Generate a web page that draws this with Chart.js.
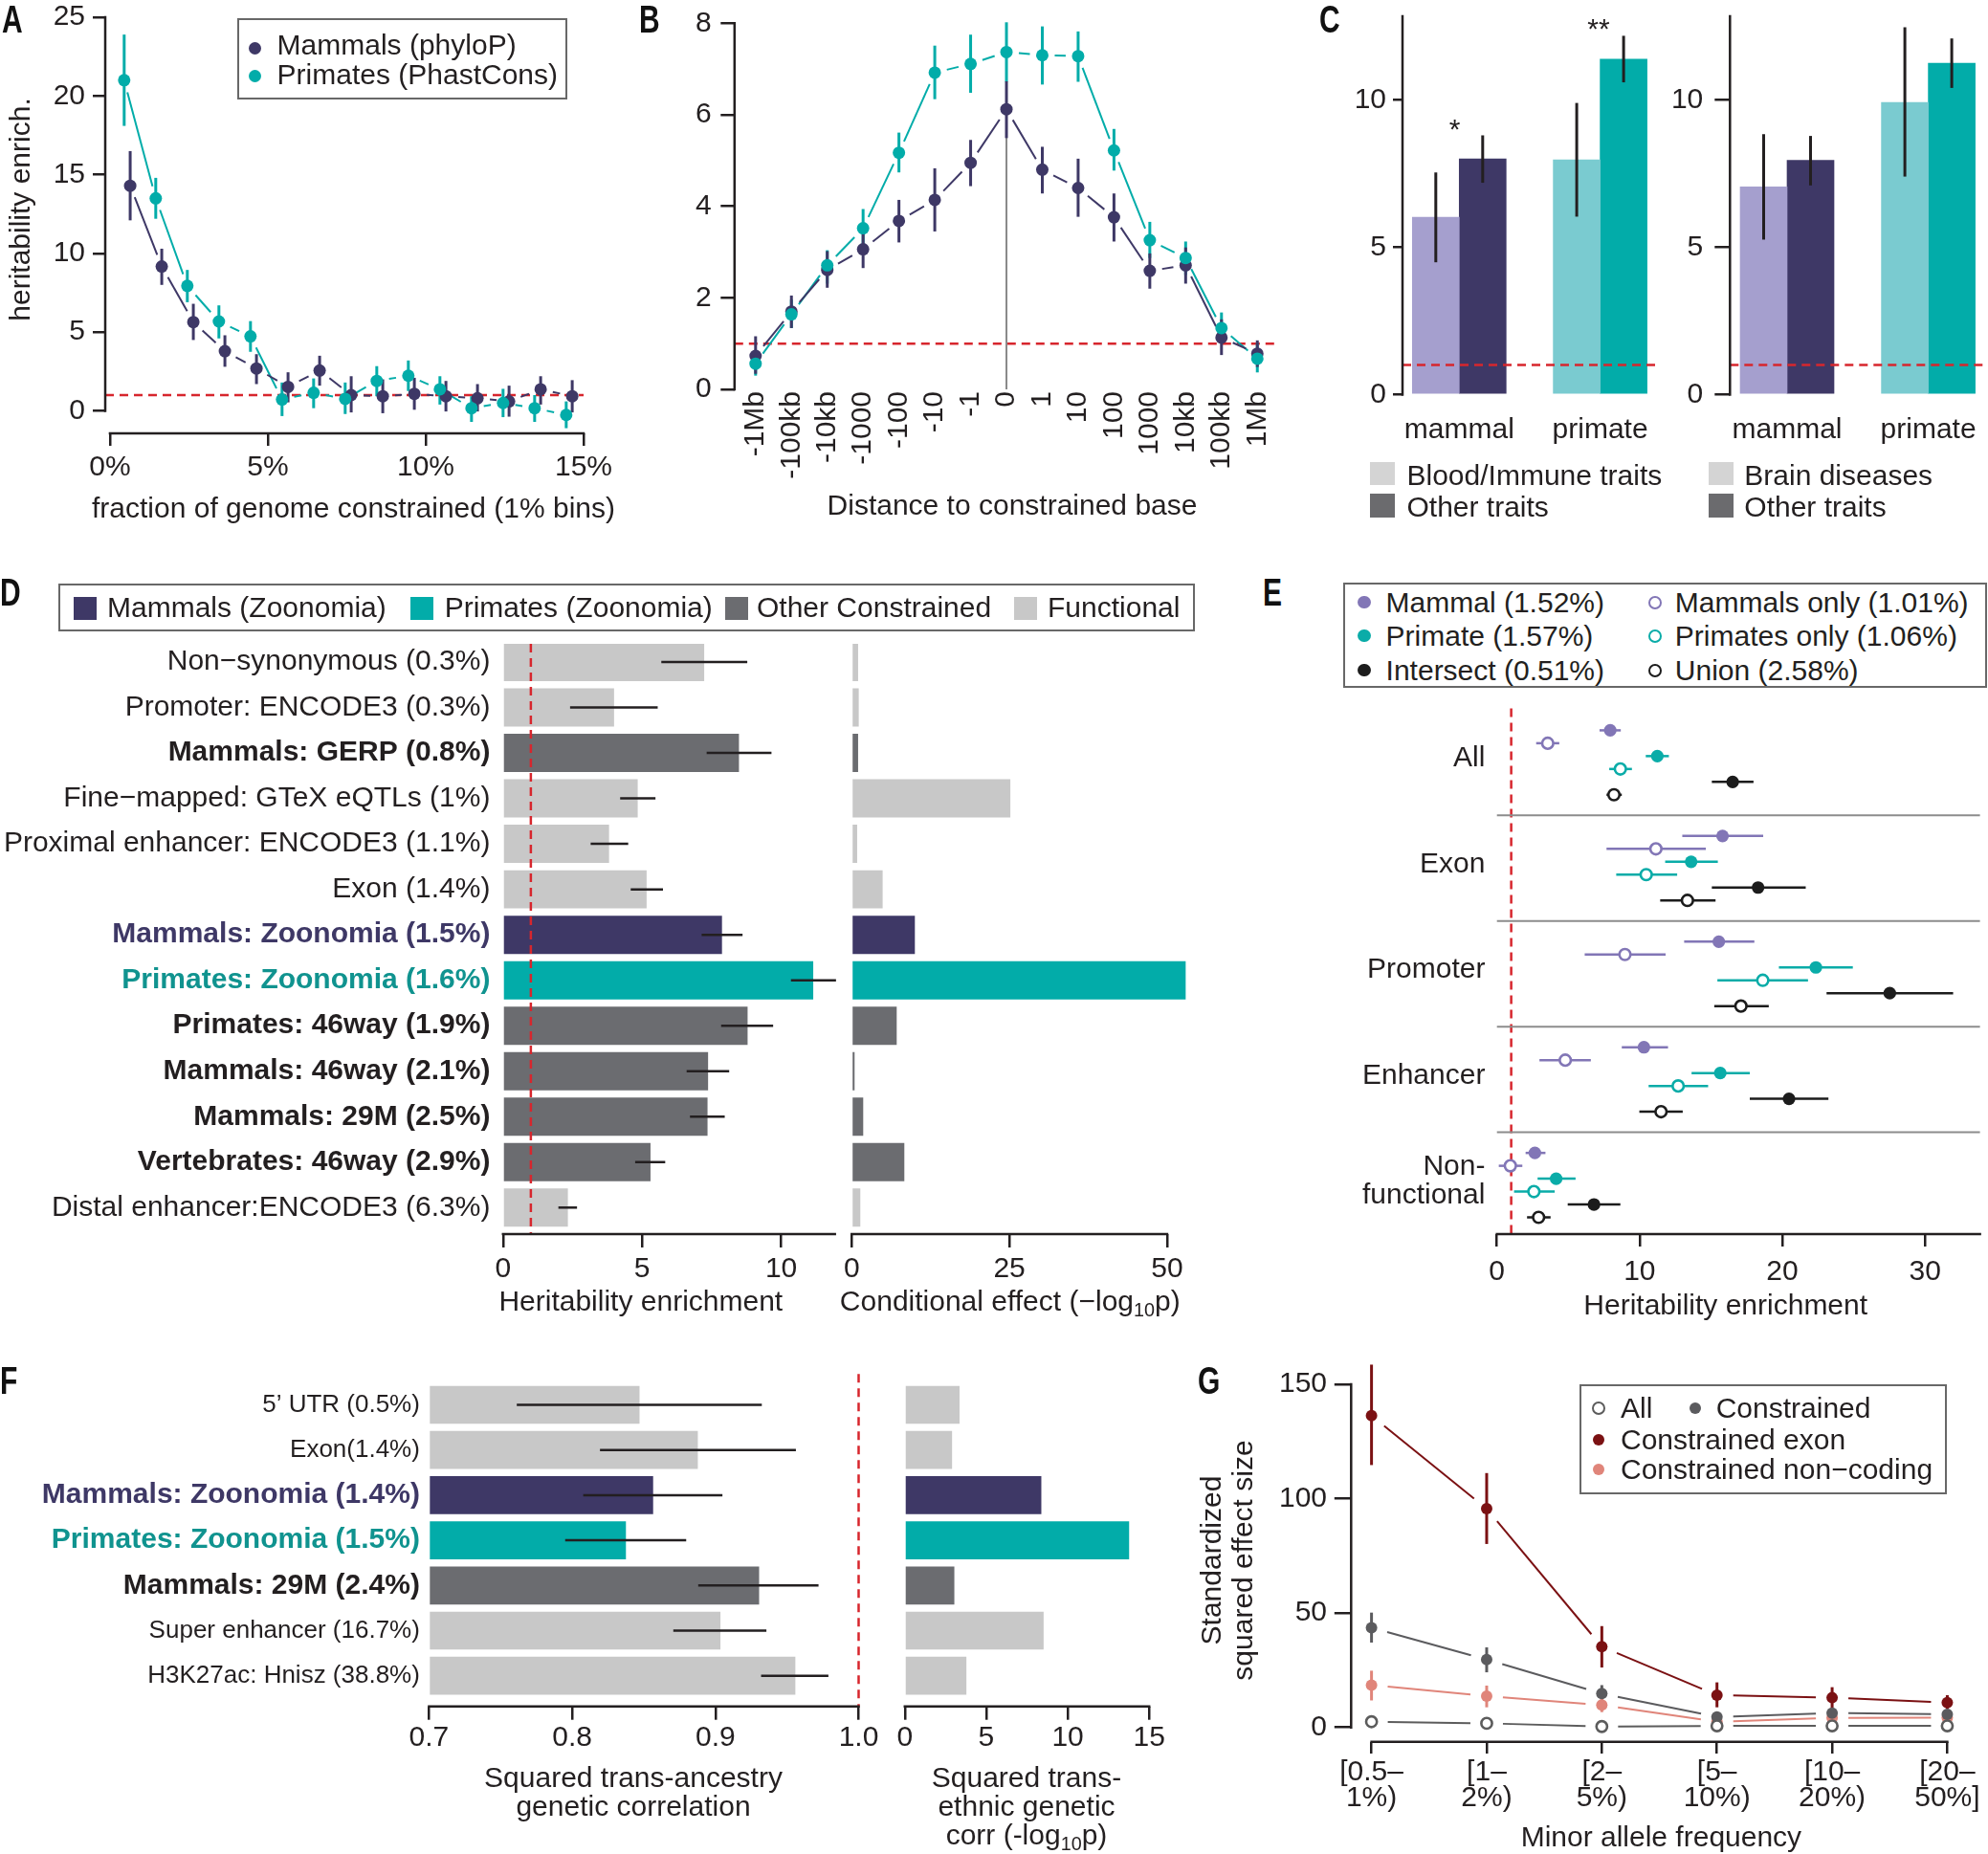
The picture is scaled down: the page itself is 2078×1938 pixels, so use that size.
<!DOCTYPE html>
<html lang="en">
<head>
<meta charset="utf-8">
<title>Constraint and heritability enrichment</title>
<script src="https://cdn.jsdelivr.net/npm/chart.js@4.4.1/dist/chart.umd.min.js"></script>
<style>
  html, body { margin: 0; padding: 0; background: #ffffff; }
  body { position: relative; width: 2078px; height: 1938px; overflow: hidden;
         font-family: "Liberation Sans", Arial, Helvetica, sans-serif; color: #231f20; }
  canvas { position: absolute; }
  .t { position: absolute; white-space: nowrap; }
  .t sub { font-size: 0.66em; line-height: 0; vertical-align: -0.3em; }
  .bx { position: absolute; box-sizing: border-box; border: 2.5px solid #686868; }
  .mk { position: absolute; box-sizing: border-box; }
  .lt { position: absolute; white-space: nowrap; font-size: 40px; line-height: 40px; font-weight: bold;
        transform: scaleX(0.75); transform-origin: 0 50%; color: #111; }
</style>
</head>
<body>
<script>
// ======================= DATA =======================
// ---- Panel A ----
const aXTicks = [0, 5, 10, 15];
const aXTickLabels = ['0%', '5%', '10%', '15%'];
const aYTicks = [0, 5, 10, 15, 20, 25];
const aMammalX = [0.64, 1.64, 2.64, 3.64, 4.64, 5.64, 6.64, 7.64, 8.64, 9.64, 10.64, 11.64, 12.64, 13.64, 14.64];
const aMammal = [14.3, 9.17, 5.64, 3.79, 2.69, 1.52, 2.56, 1.0, 0.93, 1.08, 0.93, 0.8, 0.6, 1.37, 0.93];
const aMammalLo = [12.1, 8.0, 4.5, 2.8, 1.7, 0.54, 1.6, -0.1, -0.15, 0.07, -0.04, -0.04, -0.37, 0.4, -0.1];
const aMammalHi = [16.5, 10.3, 6.8, 4.8, 3.6, 2.45, 3.5, 2.2, 2.0, 2.1, 1.9, 1.7, 1.6, 2.2, 1.95];
const aPrimateX = [0.45, 1.45, 2.45, 3.45, 4.45, 5.45, 6.45, 7.45, 8.45, 9.45, 10.45, 11.45, 12.45, 13.45, 14.45];
const aPrimate = [21.0, 13.5, 7.94, 5.68, 4.73, 0.72, 1.15, 0.76, 1.9, 2.23, 1.37, 0.17, 0.5, 0.17, -0.26];
const aPrimateLo = [18.1, 12.2, 6.9, 4.6, 3.75, -0.33, 0.17, -0.2, 0.93, 1.26, 0.4, -0.7, -0.4, -0.7, -1.1];
const aPrimateHi = [23.9, 14.8, 8.95, 6.7, 5.7, 1.8, 2.06, 1.8, 2.84, 3.2, 2.2, 0.93, 1.4, 1.0, 0.6];

// ---- Panel B ----
const bLabels = ['-1Mb', '-100kb', '-10kb', '-1000', '-100', '-10', '-1', '0', '1', '10', '100', '1000', '10kb', '100kb', '1Mb'];
const bYTicks = [0, 2, 4, 6, 8];
const bMammal = [0.73, 1.70, 2.61, 3.06, 3.68, 4.14, 4.95, 6.12, 4.80, 4.40, 3.76, 2.59, 2.71, 1.13, 0.78];
const bMammalLo = [0.34, 1.34, 2.22, 2.65, 3.21, 3.45, 4.44, 5.49, 4.28, 3.77, 3.23, 2.20, 2.31, 0.75, 0.49];
const bMammalHi = [1.16, 2.05, 3.02, 3.45, 4.14, 4.83, 5.45, 6.73, 5.30, 5.04, 4.28, 2.97, 3.10, 1.53, 1.07];
const bPrimate = [0.56, 1.64, 2.71, 3.52, 5.17, 6.92, 7.11, 7.37, 7.30, 7.28, 5.22, 3.26, 2.87, 1.34, 0.67];
const bPrimateLo = [0.30, 1.34, 2.31, 3.10, 4.74, 6.34, 6.48, 6.72, 6.66, 6.72, 4.78, 2.87, 2.50, 1.01, 0.37];
const bPrimateHi = [0.86, 1.96, 3.04, 3.94, 5.61, 7.51, 7.75, 8.02, 7.93, 7.82, 5.69, 3.66, 3.23, 1.68, 1.01];

// ---- Panel C ----
const cCats = ['mammal', 'primate'];
const cYTicks = [0, 5, 10];
const cBloodImmune = [6.02, 7.97];
const cBloodImmuneLo = [4.49, 6.04];
const cBloodImmuneHi = [7.54, 9.90];
const cOtherA = [8.00, 11.39];
const cOtherALo = [7.19, 10.60];
const cOtherAHi = [8.80, 12.18];
const cBrain = [7.05, 9.92];
const cBrainLo = [5.26, 7.40];
const cBrainHi = [8.84, 12.47];
const cOtherB = [7.95, 11.25];
const cOtherBLo = [7.10, 10.41];
const cOtherBHi = [8.78, 12.09];

// ---- Panel D ----
const dLabels = ['Non\u2212synonymous (0.3%)', 'Promoter: ENCODE3 (0.3%)', 'Mammals: GERP (0.8%)',
  'Fine\u2212mapped: GTeX eQTLs (1%)', 'Proximal enhancer: ENCODE3 (1.1%)', 'Exon (1.4%)',
  'Mammals: Zoonomia (1.5%)', 'Primates: Zoonomia (1.6%)', 'Primates: 46way (1.9%)',
  'Mammals: 46way (2.1%)', 'Mammals: 29M (2.5%)', 'Vertebrates: 46way (2.9%)', 'Distal enhancer:ENCODE3 (6.3%)'];
const dTypes = ['f', 'f', 'o', 'f', 'f', 'f', 'm', 'p', 'o', 'o', 'o', 'o', 'f'];
const dEnrich = [7.22, 3.98, 8.47, 4.83, 3.80, 5.15, 7.86, 11.14, 8.78, 7.36, 7.34, 5.29, 2.32];
const dEnrichLo = [5.69, 2.41, 7.32, 4.21, 3.15, 4.59, 7.14, 10.35, 7.84, 6.60, 6.72, 4.75, 1.99];
const dEnrichHi = [8.78, 5.56, 9.65, 5.48, 4.50, 5.75, 8.61, 11.97, 9.71, 8.13, 7.97, 5.83, 2.66];
const dCond = [0.96, 1.06, 0.96, 25.1, 0.81, 4.85, 9.96, 52.9, 7.08, 0.40, 1.77, 8.29, 1.31];
const dXTicksL = [0, 5, 10];
const dXTicksR = [0, 25, 50];
const dLegend = ['Mammals (Zoonomia)', 'Primates (Zoonomia)', 'Other Constrained', 'Functional'];

// ---- Panel E ----
const eGroups = ['All', 'Exon', 'Promoter', 'Enhancer', ['Non-', 'functional']];
const eNames = ['Mammal (1.52%)', 'Mammals only (1.01%)', 'Primate (1.57%)', 'Primates only (1.06%)', 'Intersect (0.51%)', 'Union (2.58%)'];
const eMammal = [7.94, 15.81, 15.55, 10.30, 2.66];
const eMammalLo = [7.19, 12.99, 13.12, 8.75, 2.01];
const eMammalHi = [8.68, 18.66, 18.04, 11.99, 3.40];
const eMammalOnly = [3.56, 11.14, 8.97, 4.79, 0.94];
const eMammalOnlyLo = [2.75, 7.68, 6.15, 2.98, 0.13];
const eMammalOnlyHi = [4.37, 14.64, 11.82, 6.58, 1.78];
const ePrimate = [11.24, 13.61, 22.35, 15.65, 4.15];
const ePrimateLo = [10.43, 11.79, 19.76, 13.64, 2.85];
const ePrimateHi = [12.05, 15.48, 24.94, 17.72, 5.51];
const ePrimateOnly = [8.65, 10.46, 18.63, 12.70, 2.59];
const ePrimateOnlyLo = [7.87, 8.36, 15.45, 10.63, 1.20];
const ePrimateOnlyHi = [9.46, 12.63, 21.80, 14.80, 4.05];
const eIntersect = [16.52, 18.30, 27.53, 20.47, 6.80];
const eIntersectLo = [15.06, 15.06, 23.10, 17.72, 4.96];
const eIntersectHi = [17.98, 21.64, 31.97, 23.23, 8.65];
const eUnion = [8.20, 13.35, 17.10, 11.50, 2.92];
const eUnionLo = [7.68, 11.44, 15.23, 9.98, 2.11];
const eUnionHi = [8.75, 15.32, 19.05, 13.02, 3.76];
const eXTicks = [0, 10, 20, 30];

// ---- Panel F ----
const fLabels = ['5\u2019 UTR (0.5%)', 'Exon(1.4%)', 'Mammals: Zoonomia (1.4%)', 'Primates: Zoonomia (1.5%)',
  'Mammals: 29M (2.4%)', 'Super enhancer (16.7%)', 'H3K27ac: Hnisz (38.8%)'];
const fTypes = ['f', 'f', 'm', 'p', 'o', 'f', 'f'];
const fCorr = [0.8468, 0.8875, 0.8563, 0.8373, 0.9303, 0.9033, 0.9556];
const fCorrLo = [0.7613, 0.8194, 0.8077, 0.7951, 0.8880, 0.8706, 0.9319];
const fCorrHi = [0.9324, 0.9562, 0.9049, 0.8796, 0.9720, 0.9356, 0.9789];
const fLogP = [3.34, 2.88, 8.36, 13.75, 3.02, 8.50, 3.76];
const fXTicksL = [0.7, 0.8, 0.9, 1.0];
const fXTickLabelsL = ['0.7', '0.8', '0.9', '1.0'];
const fXTicksR = [0, 5, 10, 15];

// ---- Panel G ----
const gLabels = [['[0.5\u2013', '1%)'], ['[1\u2013', '2%)'], ['[2\u2013', '5%)'], ['[5\u2013', '10%)'], ['[10\u2013', '20%)'], ['[20\u2013', '50%]']];
const gYTicks = [0, 50, 100, 150];
const gAll = [2.5, 1.8, 0.4, 0.7, 0.7, 0.7];
const gConstrained = [43.6, 29.7, 14.8, 4.6, 6.3, 5.7];
const gConstrainedLo = [37.1, 24.1, 11.3, 3.0, 4.5, 4.2];
const gConstrainedHi = [50.2, 35.0, 18.5, 6.2, 8.1, 7.2];
const gExon = [136.3, 95.6, 35.3, 14.1, 13.0, 10.9];
const gExonLo = [114.7, 80.2, 26.2, 8.8, 8.5, 8.1];
const gExonHi = [158.6, 111.2, 44.3, 19.7, 17.6, 14.1];
const gNonCoding = [18.5, 13.7, 9.8, 2.5, 4.2, 4.3];
const gNonCodingLo = [11.8, 8.8, 6.7, 1.0, 2.7, 2.9];
const gNonCodingHi = [24.8, 18.3, 13.0, 4.0, 5.7, 5.7];

// ======================= STYLE =======================
const INK = '#231f20';
const PURPLE = '#3e3866', TEAL = '#02aca9', LPURPLE = '#a59fce', LTEAL = '#7acbd0';
const OTHER = '#6b6c70', FUNC = '#c8c8c8', RED = '#d7262d', SEP = '#8c8c8c';
const E_COLORS = ['#8276b6', '#8276b6', '#0aaca8', '#0aaca8', '#1c1c1c', '#1c1c1c'];
const E_OPEN = [false, true, false, true, false, true];
const G_ALL = '#5c5c5c', G_CON = '#5b5b5e', G_EXON = '#7b1113', G_NC = '#e0857a';
const TYPE_FILL = {f: FUNC, o: OTHER, m: PURPLE, p: TEAL};
const TYPE_TEXT = {f: INK, o: INK, m: PURPLE, p: '#10938f'};
const DASH = [9, 6];
const E_GROUP = 8.2, E_SEP = 6.6, E_LABEL = 2.2;

Chart.defaults.font.family = '"Liberation Sans", Arial, Helvetica, sans-serif';
Chart.defaults.color = INK;

// ======================= HELPERS =======================
function paint(chart, spec, layer) {
  const ctx = chart.ctx, ca = chart.chartArea;
  ctx.save();
  (spec.refLines || []).forEach(r => {
    if ((r.layer || 'under') !== layer) return;
    const s = chart.scales[r.axis];
    const p = s.getPixelForValue(r.value);
    ctx.beginPath();
    ctx.setLineDash(r.dash || []);
    ctx.strokeStyle = r.color;
    ctx.lineWidth = r.width || 2;
    if (r.axis === 'x') {
      const o = chart.scales.y;
      const a = r.from !== undefined ? o.getPixelForValue(r.from) : ca.top;
      const b = r.to !== undefined ? o.getPixelForValue(r.to) : ca.bottom;
      ctx.moveTo(p, a); ctx.lineTo(p, b);
    } else {
      const o = chart.scales.x;
      const a = r.from !== undefined ? o.getPixelForValue(r.from) : ca.left;
      const b = r.to !== undefined ? o.getPixelForValue(r.to) : ca.right;
      ctx.moveTo(a, p); ctx.lineTo(b, p);
    }
    ctx.stroke();
  });
  ctx.setLineDash([]);
  if (layer === 'under') {
    chart.data.datasets.forEach((ds, i) => {
      const g = ds.gapLine;
      if (!g) return;
      const pts = chart.getDatasetMeta(i).data;
      ctx.strokeStyle = g.color; ctx.lineWidth = g.width; ctx.lineCap = 'butt';
      for (let k = 0; k < pts.length - 1; k++) {
        const p = pts[k], q = pts[k + 1];
        const dx = q.x - p.x, dy = q.y - p.y, d = Math.hypot(dx, dy);
        if (d <= 2 * g.gap) continue;
        const ux = dx / d, uy = dy / d;
        ctx.beginPath();
        ctx.moveTo(p.x + ux * g.gap, p.y + uy * g.gap);
        ctx.lineTo(q.x - ux * g.gap, q.y - uy * g.gap);
        ctx.stroke();
      }
    });
  }
  if (layer === (spec.errLayer || 'under')) {
    chart.data.datasets.forEach((ds, i) => {
      const e = ds.err;
      if (!e) return;
      const s = chart.scales[e.axis];
      ctx.strokeStyle = e.color; ctx.lineWidth = e.width; ctx.lineCap = 'butt';
      chart.getDatasetMeta(i).data.forEach((el, k) => {
        if (e.lo[k] === undefined) return;
        const a = s.getPixelForValue(e.lo[k]), b = s.getPixelForValue(e.hi[k]);
        ctx.beginPath();
        if (e.axis === 'y') { ctx.moveTo(el.x, a); ctx.lineTo(el.x, b); }
        else { ctx.moveTo(a, el.y); ctx.lineTo(b, el.y); }
        ctx.stroke();
      });
    });
  }
  if (layer === 'over') {
    (spec.axisLines || []).forEach(a => {
      const s = chart.scales[a.axis];
      let p1, p2;
      if (a.full) {
        p1 = a.axis === 'x' ? ca.left : ca.top;
        p2 = a.axis === 'x' ? ca.right : ca.bottom;
      } else {
        const t = s.ticks;
        p1 = s.getPixelForValue(t[0].value);
        p2 = s.getPixelForValue(t[t.length - 1].value);
      }
      ctx.strokeStyle = INK; ctx.lineWidth = 2.5; ctx.lineCap = 'square';
      ctx.beginPath();
      if (a.axis === 'x') { ctx.moveTo(p1, ca.bottom); ctx.lineTo(p2, ca.bottom); }
      else { ctx.moveTo(ca.left, p1); ctx.lineTo(ca.left, p2); }
      ctx.stroke();
    });
  }
  ctx.restore();
}

function makeExtras(spec) {
  return {
    id: 'extras',
    beforeDatasetsDraw(chart) { paint(chart, spec, 'under'); },
    afterDatasetsDraw(chart) { paint(chart, spec, 'over'); }
  };
}

function lin(o) {
  return {
    type: 'linear', min: o.min, max: o.max, reverse: !!o.reverse, bounds: 'data', offset: false,
    border: {display: false},
    grid: {display: !!o.tick, offset: false, drawOnChartArea: false, drawTicks: !!o.tick, tickLength: o.tick || 0, color: INK, lineWidth: 2.5},
    ticks: {
      display: !o.hide, autoSkip: false, padding: o.pad || 0,
      minRotation: o.rot || 0, maxRotation: o.rot || 0,
      font: o.font || {size: 30, lineHeight: 1.2},
      color: o.color || INK,
      callback: (v, i) => (o.labels ? o.labels[i] : String(v))
    },
    afterBuildTicks: s => { s.ticks = (o.at || []).map(v => ({value: v})); }
  };
}

function build(cv, area, type, datasets, scales, spec, extra) {
  const c = document.createElement('canvas');
  c.width = cv.w; c.height = cv.h;
  c.style.left = cv.x + 'px'; c.style.top = cv.y + 'px';
  c.style.width = cv.w + 'px'; c.style.height = cv.h + 'px';
  document.body.appendChild(c);
  const yW = area.L - cv.x, xH = cv.y + cv.h - area.B;
  scales.x.position = 'bottom'; scales.y.position = 'left';
  scales.x.afterFit = s => { s.height = xH; s.paddingLeft = 0; s.paddingRight = 0; s.paddingTop = 0; s.paddingBottom = 0; };
  scales.y.afterFit = s => { s.width = yW; s.paddingLeft = 0; s.paddingRight = 0; s.paddingTop = 0; s.paddingBottom = 0; };
  const options = Object.assign({
    responsive: false, maintainAspectRatio: false, devicePixelRatio: 1, animation: false,
    layout: {padding: {left: 0, bottom: 0, top: area.T - cv.y, right: cv.x + cv.w - area.R}},
    plugins: {legend: {display: false}, tooltip: {enabled: false}},
    events: [],
    scales
  }, extra || {});
  return new Chart(c, {type, data: {datasets}, options, plugins: [makeExtras(spec || {})]});
}

function ptSet(xs, ys, lo, hi, color, gap, r, open) {
  const ds = {
    data: xs.map((x, i) => ({x, y: ys[i]})),
    pointRadius: r, pointHoverRadius: r,
    pointBackgroundColor: open ? '#ffffff' : color, pointBorderColor: color,
    pointBorderWidth: open ? 2.6 : 0, showLine: false, clip: false,
    gapLine: gap ? {color, width: 2, gap} : null
  };
  if (lo) ds.err = {axis: 'y', lo, hi, color, width: 3};
  return ds;
}

function txt(html, x, y, align, o) {
  o = o || {};
  const size = o.size || 30;
  const d = document.createElement('div');
  d.className = 't';
  d.innerHTML = html;
  d.style.fontSize = size + 'px';
  d.style.lineHeight = size + 'px';
  if (o.weight) d.style.fontWeight = o.weight;
  if (o.color) d.style.color = o.color;
  if (align === 'right') { d.style.left = (x - 1000) + 'px'; d.style.width = '1000px'; d.style.textAlign = 'right'; }
  else if (align === 'center') { d.style.left = (x - 500) + 'px'; d.style.width = '1000px'; d.style.textAlign = 'center'; }
  else d.style.left = x + 'px';
  d.style.top = (y - size / 2) + 'px';
  if (o.rot) d.style.transform = 'rotate(' + o.rot + 'deg)';
  document.body.appendChild(d);
}
function dot(cx, cy, r, fill, stroke, sw) {
  const d = document.createElement('div');
  d.className = 'mk';
  d.style.cssText += `left:${cx - r}px;top:${cy - r}px;width:${2 * r}px;height:${2 * r}px;border-radius:50%;background:${fill};` +
    (sw ? `border:${sw}px solid ${stroke};` : '');
  document.body.appendChild(d);
}
function rect(x, y, w, h, color) {
  const d = document.createElement('div');
  d.className = 'mk';
  d.style.cssText += `left:${x}px;top:${y}px;width:${w}px;height:${h}px;background:${color};`;
  document.body.appendChild(d);
}
function frame(x1, y1, x2, y2) {
  const d = document.createElement('div');
  d.className = 'bx';
  d.style.cssText += `left:${x1}px;top:${y1}px;width:${x2 - x1}px;height:${y2 - y1}px;`;
  document.body.appendChild(d);
}
function letter(ch, x, baseline) {
  const d = document.createElement('div');
  d.className = 'lt';
  d.textContent = ch;
  d.style.left = x + 'px';
  d.style.top = (baseline - 33.9) + 'px';
  document.body.appendChild(d);
}
const idx = arr => arr.map((_, i) => i);

// ======================= PANEL A =======================
build({x: 0, y: 0, w: 650, h: 560}, {L: 110, T: 13.1, R: 610, B: 453}, 'scatter',
  [ptSet(aPrimateX, aPrimate, aPrimateLo, aPrimateHi, TEAL, 13, 6.5),
   ptSet(aMammalX, aMammal, aMammalLo, aMammalHi, PURPLE, 13, 6.5)],
  {x: lin({min: -0.15, max: 15, at: aXTicks, labels: aXTickLabels, tick: 13, pad: 5}),
   y: lin({min: -1.43, max: 25.3, at: aYTicks, tick: 13, pad: 8})},
  {refLines: [{axis: 'y', value: 1, color: RED, dash: DASH, width: 2.5}],
   axisLines: [{axis: 'x'}, {axis: 'y'}]});

// ======================= PANEL B =======================
const bZero = bLabels.indexOf('0');
build({x: 650, y: 0, w: 700, h: 560}, {L: 767.8, T: 10, R: 1335, B: 407}, 'scatter',
  [ptSet(idx(bPrimate), bPrimate, bPrimateLo, bPrimateHi, TEAL, 13, 6.5),
   ptSet(idx(bMammal), bMammal, bMammalLo, bMammalHi, PURPLE, 13, 6.5)],
  {x: lin({min: -0.587, max: 14.554, at: idx(bLabels), labels: bLabels, rot: 90, pad: 2}),
   y: lin({min: 0, max: 8.298, at: bYTicks, tick: 14.5, pad: 9.7})},
  {refLines: [{axis: 'y', value: 1, color: RED, dash: DASH, width: 2.5},
              {axis: 'x', value: bZero, from: 0, to: bMammal[bZero], color: '#8a8a8a', width: 2}],
   axisLines: [{axis: 'y'}]});

// ======================= PANEL C =======================
function cChart(cv, area, xmin, xmax, light, lightLo, lightHi, dark, darkLo, darkHi, tick, pad) {
  build(cv, area, 'bar',
    [{data: cCats.map((_, i) => ({x: i, y: light[i]})), backgroundColor: [LPURPLE, LTEAL], barThickness: 49, borderWidth: 0,
      err: {axis: 'y', lo: lightLo, hi: lightHi, color: INK, width: 3}},
     {data: cCats.map((_, i) => ({x: i, y: dark[i]})), backgroundColor: [PURPLE, TEAL], barThickness: 49, borderWidth: 0,
      err: {axis: 'y', lo: darkLo, hi: darkHi, color: INK, width: 3}}],
    {x: lin({min: xmin, max: xmax, at: idx(cCats), labels: cCats, pad: 19.6}),
     y: lin({min: 0, max: 12.84, at: cYTicks, tick: tick, pad: pad})},
    {refLines: [{axis: 'y', value: 1, color: RED, dash: DASH, width: 2.5, layer: 'over'}],
     errLayer: 'over', axisLines: [{axis: 'y', full: true}]});
}
cChart({x: 1380, y: 0, w: 360, h: 470}, {L: 1466, T: 17.1, R: 1731, B: 412.4}, -0.4026, 1.3965,
  cBloodImmune, cBloodImmuneLo, cBloodImmuneHi, cOtherA, cOtherALo, cOtherAHi, 10, 7);
cChart({x: 1740, y: 0, w: 338, h: 470}, {L: 1808.3, T: 17.1, R: 2078, B: 412.4}, -0.4045, 1.4228,
  cBrain, cBrainLo, cBrainHi, cOtherB, cOtherBLo, cOtherBHi, 16, 12);

// ======================= PANEL D =======================
const dFont = ctx => ({size: 30, lineHeight: 1.2, weight: (dTypes[ctx.index] || 'f') === 'f' ? 'normal' : 'bold'});
const dColor = ctx => TYPE_TEXT[dTypes[ctx.index] || 'f'];
build({x: 0, y: 600, w: 880, h: 790}, {L: 525.8, T: 673, R: 872.7, B: 1290}, 'bar',
  [{data: dEnrich.map((v, i) => ({x: v, y: i})), backgroundColor: dTypes.map(t => TYPE_FILL[t]),
    barThickness: 39.3, borderWidth: 0, err: {axis: 'x', lo: dEnrichLo, hi: dEnrichHi, color: INK, width: 2.5}}],
  {x: lin({min: 0, max: 11.93, at: dXTicksL, tick: 14, pad: 5}),
   y: lin({min: -0.4, max: 12.583, reverse: true, at: idx(dLabels), labels: dLabels, pad: 13.4, font: dFont, color: dColor})},
  {refLines: [{axis: 'x', value: 1, color: RED, dash: DASH, width: 2.5, layer: 'over'}],
   errLayer: 'over', axisLines: [{axis: 'x', full: true}]},
  {indexAxis: 'y'});
build({x: 880, y: 600, w: 380, h: 790}, {L: 890.3, T: 673, R: 1241, B: 1290}, 'bar',
  [{data: dCond.map((v, i) => ({x: v, y: i})), backgroundColor: dTypes.map(t => TYPE_FILL[t]),
    barThickness: 39.3, borderWidth: 0}],
  {x: lin({min: 0, max: 53.2, at: dXTicksR, tick: 14, pad: 5}),
   y: lin({min: -0.4, max: 12.583, reverse: true, at: [], hide: true})},
  {axisLines: [{axis: 'x'}]},
  {indexAxis: 'y'});

// ======================= PANEL E =======================
const eVals = [eMammal, eMammalOnly, ePrimate, ePrimateOnly, eIntersect, eUnion];
const eLo = [eMammalLo, eMammalOnlyLo, ePrimateLo, ePrimateOnlyLo, eIntersectLo, eUnionLo];
const eHi = [eMammalHi, eMammalOnlyHi, ePrimateHi, ePrimateOnlyHi, eIntersectHi, eUnionHi];
build({x: 1330, y: 730, w: 748, h: 660}, {L: 1564.7, T: 740.4, R: 2076.5, B: 1290}, 'scatter',
  eVals.map((vals, k) => ({
    data: vals.map((v, g) => ({x: v, y: g * E_GROUP + k})),
    pointRadius: E_OPEN[k] ? 5.8 : 6.6, pointHoverRadius: E_OPEN[k] ? 5.8 : 6.6,
    pointBackgroundColor: E_OPEN[k] ? '#ffffff' : E_COLORS[k], pointBorderColor: E_COLORS[k],
    pointBorderWidth: E_OPEN[k] ? 2.6 : 0, showLine: false, clip: false,
    err: {axis: 'x', lo: eLo[k], hi: eHi[k], color: E_COLORS[k], width: 2.5}
  })),
  {x: lin({min: 0, max: 33.85, at: eXTicks, tick: 13, pad: 8.7}),
   y: lin({min: -1.71, max: 39.1, reverse: true, at: eGroups.map((_, g) => g * E_GROUP + E_LABEL), labels: eGroups, pad: 12.3,
           font: {size: 30, lineHeight: 1.0}})},
  {refLines: [{axis: 'x', value: 1, color: RED, dash: DASH, width: 2.5}]
     .concat(eGroups.slice(0, -1).map((_, g) => ({axis: 'y', value: g * E_GROUP + E_SEP, color: SEP, width: 2}))),
   axisLines: [{axis: 'x', full: true}]});

// ======================= PANEL F =======================
const fFont = ctx => {
  const t = fTypes[ctx.index] || 'f';
  return {size: t === 'f' ? 26 : 30, lineHeight: 1.2, weight: t === 'f' ? 'normal' : 'bold'};
};
const fColor = ctx => TYPE_TEXT[fTypes[ctx.index] || 'f'];
build({x: 0, y: 1425, w: 930, h: 513}, {L: 448.4, T: 1436.3, R: 897.5, B: 1783.7}, 'bar',
  [{data: fCorr.map((v, i) => ({x: v, y: i})), base: 0.7, backgroundColor: fTypes.map(t => TYPE_FILL[t]),
    barThickness: 39, borderWidth: 0, err: {axis: 'x', lo: fCorrLo, hi: fCorrHi, color: INK, width: 2.5}}],
  {x: lin({min: 0.7, max: 1.0, at: fXTicksL, labels: fXTickLabelsL, tick: 14, pad: 1}),
   y: lin({min: -0.682, max: 6.678, reverse: true, at: idx(fLabels), labels: fLabels, pad: 9.5, font: fFont, color: fColor})},
  {refLines: [{axis: 'x', value: 1.0, color: RED, dash: DASH, width: 2.5}],
   errLayer: 'over', axisLines: [{axis: 'x', full: true}]},
  {indexAxis: 'y'});
build({x: 930, y: 1425, w: 290, h: 513}, {L: 945.8, T: 1436.3, R: 1201.2, B: 1783.7}, 'bar',
  [{data: fLogP.map((v, i) => ({x: v, y: i})), backgroundColor: fTypes.map(t => TYPE_FILL[t]),
    barThickness: 39, borderWidth: 0}],
  {x: lin({min: 0, max: 15, at: fXTicksR, tick: 14, pad: 1}),
   y: lin({min: -0.682, max: 6.678, reverse: true, at: [], hide: true})},
  {axisLines: [{axis: 'x', full: true}]},
  {indexAxis: 'y'});

// ======================= PANEL G =======================
build({x: 1240, y: 1410, w: 838, h: 528}, {L: 1412.3, T: 1420, R: 2050, B: 1820.7}, 'scatter',
  [ptSet(idx(gAll), gAll, null, null, G_ALL, 17, 5.6, true),
   ptSet(idx(gConstrained), gConstrained, gConstrainedLo, gConstrainedHi, G_CON, 17, 6),
   ptSet(idx(gNonCoding), gNonCoding, gNonCodingLo, gNonCodingHi, G_NC, 17, 6),
   ptSet(idx(gExon), gExon, gExonLo, gExonHi, G_EXON, 17, 6)],
  {x: lin({min: -0.177, max: 5.121, at: idx(gLabels), labels: gLabels, tick: 12.3, pad: 6.65, font: {size: 30, lineHeight: 0.89}}),
   y: lin({min: -6.27, max: 161.3, at: gYTicks, tick: 17.5, pad: 7.8})},
  {axisLines: [{axis: 'x'}, {axis: 'y'}]});

// ======================= TEXT, LEGENDS =======================
letter('A', 1.7, 33.4); letter('B', 667.5, 33.6); letter('C', 1378.5, 33.6);
letter('D', 0, 633.3); letter('E', 1320, 633.3); letter('F', 0, 1456.5); letter('G', 1251.7, 1456.7);

// A
frame(247.5, 18.6, 593, 103.6);
dot(266.5, 50, 6.5, PURPLE); dot(266.5, 79.3, 6.5, TEAL);
txt('Mammals (phyloP)', 289.6, 47, 'left');
txt('Primates (PhastCons)', 289.6, 78, 'left');
txt('heritability enrich.', 21, 218.5, 'center', {rot: -90});
txt('fraction of genome constrained (1% bins)', 369.5, 530.5, 'center');

// B
txt('Distance to constrained base', 1058, 528, 'center');

// C
txt('*', 1520.5, 134.6, 'center');
txt('**', 1671, 30.3, 'center');
rect(1431.8, 482.8, 26.4, 24.5, '#d4d4d4'); rect(1431.8, 516, 26.4, 25, '#6b6b6e');
txt('Blood/Immune traits', 1470.5, 497, 'left'); txt('Other traits', 1470.5, 530, 'left');
rect(1785.6, 482.8, 26, 24.5, '#d4d4d4'); rect(1785.6, 516, 26, 25, '#6b6b6e');
txt('Brain diseases', 1823.3, 497, 'left'); txt('Other traits', 1823.3, 530, 'left');

// D
frame(60.6, 610, 1249.3, 660);
[[77, PURPLE, 112], [429, TEAL, 464.7], [757.6, OTHER, 791], [1060, FUNC, 1095]].forEach((e, i) => {
  rect(e[0], 624, 24, 23.5, e[1]);
  txt(dLegend[i], e[2], 635, 'left');
});
txt('Heritability enrichment', 669.8, 1360, 'center');
txt('Conditional effect (\u2212log<sub>10</sub>p)', 1055.8, 1360, 'center');

// E
frame(1404, 609, 2076.5, 719);
[[0, 629.7], [2, 664.9], [4, 700.6]].forEach(e => {
  dot(1426, e[1], 6.6, E_COLORS[e[0]]);
  txt(eNames[e[0]], 1448.6, e[1], 'left');
});
[[1, 629.7], [3, 664.9], [5, 700.6]].forEach(e => {
  dot(1729.8, e[1], 7, '#ffffff', E_COLORS[e[0]], 2.6);
  txt(eNames[e[0]], 1750.8, e[1], 'left');
});
txt('Heritability enrichment', 1803.7, 1364.4, 'center');

// F
txt('Squared trans-ancestry', 662, 1858, 'center');
txt('genetic correlation', 662, 1888, 'center');
txt('Squared trans-', 1073, 1858, 'center');
txt('ethnic genetic', 1073, 1888, 'center');
txt('corr (-log<sub>10</sub>p)', 1073, 1918, 'center');

// G
frame(1651.4, 1447, 2035.4, 1562);
dot(1671, 1472.3, 7, '#ffffff', G_ALL, 2.6); txt('All', 1694, 1472.3, 'left');
dot(1772, 1472.3, 6, G_CON); txt('Constrained', 1793.7, 1472.3, 'left');
dot(1671, 1504.7, 6, G_EXON); txt('Constrained exon', 1694, 1504.7, 'left');
dot(1671, 1535.7, 6, G_NC); txt('Constrained non\u2212coding', 1694, 1535.7, 'left');
txt('Standardized', 1266.2, 1631.3, 'center', {rot: -90});
txt('squared effect size', 1298.5, 1631.3, 'center', {rot: -90});
txt('Minor allele frequency', 1736.4, 1919.7, 'center');
</script>
</body>
</html>
